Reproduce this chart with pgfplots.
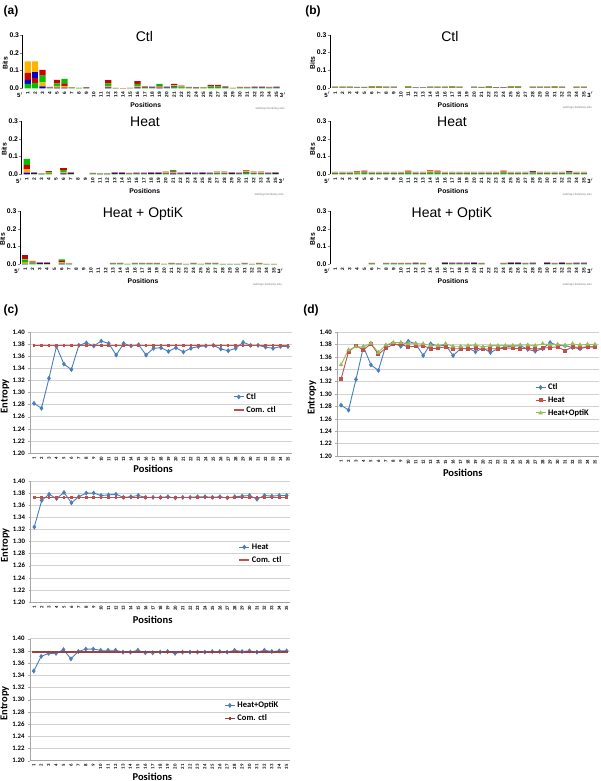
\documentclass[border=0pt]{standalone}
\usepackage{fontspec}
\setmainfont{Carlito}
\newfontfamily\arialf{Liberation Sans}
\usepackage{pgfplots}
\pgfplotsset{compat=1.18}
\usepackage{pgfplotstable}

\definecolor{xlblue}{HTML}{4A7EBB}
\definecolor{xlred}{HTML}{C0504D}
\definecolor{xlgreen}{HTML}{9BBB59}
\definecolor{lgA}{HTML}{00C000}
\definecolor{lgC}{HTML}{0000CC}
\definecolor{lgG}{HTML}{FFB300}
\definecolor{lgT}{HTML}{CC0000}
\newcommand{\fs}[1]{\fontsize{#1}{#1}\selectfont}

% entropy per position
\pgfplotstableread{
pos ctl heat optik comc comh como
1 1.282 1.324 1.347 1.378 1.373 1.378
2 1.274 1.368 1.371 1.378 1.373 1.378
3 1.3235 1.378 1.376 1.378 1.373 1.378
4 1.376 1.371 1.376 1.378 1.373 1.378
5 1.347 1.381 1.382 1.378 1.373 1.378
6 1.338 1.364 1.367 1.378 1.373 1.378
7 1.378 1.374 1.379 1.378 1.373 1.378
8 1.382 1.380 1.383 1.378 1.373 1.378
9 1.377 1.380 1.383 1.378 1.373 1.378
10 1.385 1.376 1.381 1.378 1.373 1.378
11 1.381 1.377 1.381 1.378 1.373 1.378
12 1.362 1.378 1.381 1.378 1.373 1.378
13 1.381 1.373 1.378 1.378 1.373 1.378
14 1.377 1.374 1.378 1.378 1.373 1.378
15 1.379 1.376 1.381 1.378 1.373 1.378
16 1.362 1.373 1.377 1.378 1.373 1.378
17 1.373 1.373 1.377 1.378 1.373 1.378
18 1.374 1.373 1.378 1.378 1.373 1.378
19 1.368 1.374 1.379 1.378 1.373 1.378
20 1.374 1.372 1.376 1.378 1.373 1.378
21 1.367 1.373 1.378 1.378 1.373 1.378
22 1.373 1.373 1.378 1.378 1.373 1.378
23 1.376 1.374 1.378 1.378 1.373 1.378
24 1.377 1.374 1.378 1.378 1.373 1.378
25 1.378 1.373 1.379 1.378 1.373 1.378
26 1.372 1.374 1.379 1.378 1.373 1.378
27 1.369 1.372 1.378 1.378 1.373 1.378
28 1.373 1.374 1.381 1.378 1.373 1.378
29 1.383 1.375 1.379 1.378 1.373 1.378
30 1.378 1.376 1.380 1.378 1.373 1.378
31 1.378 1.370 1.378 1.378 1.373 1.378
32 1.375 1.376 1.381 1.378 1.373 1.378
33 1.373 1.375 1.379 1.378 1.373 1.378
34 1.376 1.376 1.380 1.378 1.373 1.378
35 1.376 1.376 1.380 1.378 1.373 1.378
}\entropy

% logo heights (bits): lower stack A C G T, upper stack c g a t
\pgfplotstableread{
p A C G T c g a t
1 .025 .022 0 .040 0 .066 0 0
2 .030 0 0 .028 .032 .063 0 0
3 0 .011 .023 0 0 0 .038 .032
4 .002 .002 .002 .002 0 0 0 0
5 0 .004 .009 0 0 0 .015 .019
6 0 .004 .009 .015 0 0 .025 0
7 .002 .001 .002 .001 0 0 0 0
8 .001 0 .001 .001 0 0 0 0
9 .001 .001 .001 .002 0 0 0 0
10 0 0 0 0 0 0 0 0
11 0 0 0 0 0 0 0 0
12 0 .005 .008 0 0 0 .015 .018
13 .001 0 0 .001 0 0 0 0
14 0 0 0 .001 0 0 0 0
15 .001 0 .001 .001 0 0 0 0
16 0 .005 .008 0 0 0 .012 .015
17 .004 .002 .003 .003 0 0 0 0
18 .003 .002 .003 .002 0 0 0 0
19 0 .004 .005 .004 0 0 .012 0
20 .003 .002 .003 .002 0 0 0 0
21 .007 .004 .005 0 0 0 0 .009
22 .005 .003 .004 .003 0 0 0 0
23 .002 .002 .002 .002 0 0 0 0
24 .001 .001 .001 .002 0 0 0 0
25 .002 .001 .002 .001 0 0 0 0
26 .006 .003 .004 .007 0 0 0 0
27 .006 .003 .004 .007 0 0 0 0
28 .004 .002 .003 .003 0 0 0 0
29 .001 0 .001 .001 0 0 0 0
30 .002 .002 .002 .002 0 0 0 0
31 .002 .002 .002 .002 0 0 0 0
32 .003 .002 .003 .002 0 0 0 0
33 .003 .002 .003 .002 0 0 0 0
34 .002 .002 .002 .002 0 0 0 0
35 .003 .002 .003 .002 0 0 0 0
}\logoaCtl

\pgfplotstableread{
p A C G T c g a t
1 0 .009 .019 .025 0 0 .034 0
2 .003 .003 .003 .003 0 0 0 0
3 .001 .001 .002 .001 0 0 0 0
4 .005 .003 .005 .005 0 0 0 0
5 0 0 0 0 0 0 0 0
6 0 .005 .008 0 0 0 .010 .012
7 .003 .003 .003 .003 0 0 0 0
8 0 0 0 0 0 0 0 0
9 0 0 0 0 0 0 0 0
10 .002 .002 .002 .002 0 0 0 0
11 .001 .001 .002 .001 0 0 0 0
12 .001 .001 .002 .001 0 0 0 0
13 .003 .003 .003 .003 0 0 0 0
14 .003 .003 .003 .003 0 0 0 0
15 .002 .002 .002 .002 0 0 0 0
16 .003 .002 .003 .002 0 0 0 0
17 .003 .002 .003 .002 0 0 0 0
18 .003 .003 .003 .003 0 0 0 0
19 .003 .003 .003 .003 0 0 0 0
20 .004 .003 .004 .004 0 0 0 0
21 0 .005 .006 .005 0 0 .008 0
22 .003 .002 .003 .002 0 0 0 0
23 .003 .003 .003 .003 0 0 0 0
24 .003 .002 .003 .002 0 0 0 0
25 .003 .003 .003 .003 0 0 0 0
26 .003 .002 .003 .002 0 0 0 0
27 .004 .003 .004 .004 0 0 0 0
28 .004 .003 .004 .004 0 0 0 0
29 .003 .003 .003 .003 0 0 0 0
30 .003 .002 .003 .002 0 0 0 0
31 .006 .005 .005 .006 0 0 0 0
32 .004 .003 .004 .004 0 0 0 0
33 .004 .003 .004 .004 0 0 0 0
34 .003 .002 .003 .002 0 0 0 0
35 .003 .003 .003 .003 0 0 0 0
}\logoaHeat

\pgfplotstableread{
p A C G T c g a t
1 0 .003 .006 0 0 0 .019 .025
2 .005 .005 .005 .005 0 0 0 0
3 .003 .003 .003 .003 0 0 0 0
4 .003 .003 .003 .003 0 0 0 0
5 0 0 0 0 0 0 0 0
6 0 .004 .007 .008 0 0 .009 0
7 .001 .001 .002 .001 0 0 0 0
8 0 0 0 0 0 0 0 0
9 0 0 0 0 0 0 0 0
10 0 0 0 0 0 0 0 0
11 0 0 0 0 0 0 0 0
12 0 0 0 0 0 0 0 0
13 .002 .002 .002 .002 0 0 0 0
14 .002 .002 .002 .002 0 0 0 0
15 .001 0 .001 .001 0 0 0 0
16 .002 .002 .002 .002 0 0 0 0
17 .002 .002 .002 .002 0 0 0 0
18 .002 .002 .002 .002 0 0 0 0
19 .002 .002 .002 .002 0 0 0 0
20 .001 0 .001 .001 0 0 0 0
21 .002 .002 .002 .002 0 0 0 0
22 .001 .001 .002 .001 0 0 0 0
23 .001 0 0 .001 0 0 0 0
24 .002 .002 .002 .002 0 0 0 0
25 .001 0 .001 .001 0 0 0 0
26 .002 .002 .002 .002 0 0 0 0
27 .002 .002 .002 .002 0 0 0 0
28 .001 0 0 .001 0 0 0 0
29 .001 0 0 .001 0 0 0 0
30 .001 0 0 .001 0 0 0 0
31 .002 .002 .002 .002 0 0 0 0
32 .001 0 0 .001 0 0 0 0
33 .002 .002 .002 .002 0 0 0 0
34 .001 0 0 .001 0 0 0 0
35 .001 0 0 .001 0 0 0 0
}\logoaOpt

\pgfplotstableread{
p A C G T
1 .002 .002 .002 .002
2 .002 .002 .002 .002
3 .002 .002 .002 .002
4 .002 .001 .002 .002
5 .002 .001 .002 .002
6 .003 .002 .003 .002
7 .003 .002 .003 .002
8 .002 .002 .002 .002
9 .002 .002 .002 .002
10 0 0 0 0
11 .003 .002 .003 .002
12 .001 .001 .001 .001
13 .001 .001 .001 .001
14 .002 .002 .002 .002
15 .002 .002 .002 .002
16 .002 .002 .002 .002
17 .003 .002 .003 .002
18 .002 .002 .002 .002
19 0 0 0 0
20 .002 .002 .002 .002
21 .002 .001 .002 .001
22 .003 .002 .003 .002
23 .001 .001 .002 .001
24 .001 .001 .002 .001
25 .003 .002 .003 .002
26 .003 .002 .003 .002
27 0 0 0 0
28 .002 .002 .002 .002
29 .002 .002 .002 .002
30 .002 .002 .002 .002
31 .003 .002 .003 .002
32 .002 .002 .002 .002
33 0 0 0 0
34 .002 .002 .002 .002
35 .002 .002 .002 .002
}\logobCtl

\pgfplotstableread{
p A C G T
1 .004 .003 .004 .003
2 .004 .003 .004 .003
3 .004 .003 .004 .003
4 .005 .003 .004 .004
5 .006 .004 .005 .006
6 .004 .003 .004 .003
7 .004 .003 .004 .003
8 .004 .003 .004 .003
9 .004 .003 .004 .003
10 .004 .003 .004 .003
11 .006 .004 .005 .006
12 .004 .003 .004 .003
13 .004 .003 .004 .003
14 .006 .004 .006 .006
15 .006 .004 .005 .006
16 .004 .003 .004 .003
17 .004 .003 .004 .003
18 .004 .003 .004 .003
19 .004 .003 .004 .003
20 .004 .003 .004 .003
21 .004 .003 .004 .003
22 .004 .003 .004 .003
23 .004 .003 .004 .003
24 .006 .004 .005 .006
25 .004 .003 .004 .003
26 .004 .003 .004 .003
27 .004 .003 .004 .003
28 .005 .004 .005 .004
29 .004 .003 .004 .003
30 .004 .003 .004 .003
31 .004 .003 .004 .003
32 .004 .003 .004 .003
33 .005 .004 .005 .004
34 .004 .003 .004 .003
35 .004 .003 .004 .003
}\logobHeat

\pgfplotstableread{
p A C G T
1 0 0 0 0
2 0 0 0 0
3 0 0 0 0
4 0 0 0 0
5 0 0 0 0
6 .002 .002 .002 .002
7 0 0 0 0
8 .002 .002 .002 .002
9 .002 .002 .002 .002
10 .002 .002 .002 .002
11 .002 .002 .002 .002
12 .003 .002 .003 .002
13 .002 .002 .002 .002
14 0 0 0 0
15 0 0 0 0
16 .003 .003 .003 .003
17 .003 .002 .003 .002
18 .003 .002 .003 .002
19 .003 .002 .003 .002
20 .003 .003 .003 .003
21 .002 .002 .002 .002
22 0 0 0 0
23 0 0 0 0
24 .002 .002 .002 .002
25 .003 .003 .003 .003
26 .003 .003 .003 .003
27 .002 .002 .002 .002
28 .003 .002 .003 .002
29 0 0 0 0
30 .003 .003 .003 .003
31 .002 .002 .002 .002
32 .003 .003 .003 .003
33 .002 .002 .002 .002
34 .003 .002 .003 .002
35 .003 .002 .003 .002
}\logobOpt

\newcommand{\logolow}[1]{%
  \addplot[fill=lgA, draw=none] table[x=p, y=A] {#1};
  \addplot[fill=lgC, draw=none] table[x=p, y=C] {#1};
  \addplot[fill=lgG, draw=none] table[x=p, y=G] {#1};
  \addplot[fill=lgT, draw=none] table[x=p, y=T] {#1};}
\newcommand{\logohigh}[1]{%
  \addplot[fill=lgC, draw=none] table[x=p, y=c] {#1};
  \addplot[fill=lgG, draw=none] table[x=p, y=g] {#1};
  \addplot[fill=lgA, draw=none] table[x=p, y=a] {#1};
  \addplot[fill=lgT, draw=none] table[x=p, y=t] {#1};}
\newcommand{\logoends}{%
  \node[font=\arialf\bfseries\fs{6}] at (axis description cs:-0.01,-0.125) {5$'$};
  \node[font=\arialf\bfseries\fs{6}] at (axis description cs:1.005,-0.125) {3$'$};
  \node[font=\arialf\fs{3}, text=gray] at (axis description cs:0.955,-0.38) {weblogo.berkeley.edu};}

\pgfplotsset{
  logo/.style={
    scale only axis, width=259pt, height=53pt,
    xmin=0.3, xmax=35.7, ymin=0, ymax=0.3,
    ybar stacked, bar width=6.2pt,
    axis x line*=bottom, axis y line*=left,
    x axis line style={draw=none},
    y axis line style={-, line width=0.8pt},
    xtick={1,...,35}, xtick style={draw=none},
    xticklabel style={rotate=90, anchor=east, font=\arialf\bfseries\fs{4.8}, inner sep=1pt},
    ytick={0,0.1,0.2,0.3},
    ytick style={line width=0.8pt}, tick align=outside, major tick length=2.5pt,
    yticklabel style={font=\arialf\bfseries\fs{6.8}, inner sep=1pt,
      /pgf/number format/.cd, fixed, fixed zerofill, precision=1},
    /pgf/number format/assume math mode=true,
    ylabel={Bits},
    ylabel style={at={(axis description cs:-0.068,0.47)}, anchor=center, font=\arialf\bfseries\fs{6.8}},
    xlabel={Positions},
    xlabel style={at={(axis description cs:0.475,-0.32)}, anchor=center, font=\arialf\bfseries\fs{6.8}},
    title style={at={(axis description cs:0.47,0.86)}, anchor=center, font=\arialf\fs{14}},
    clip=false,
  },
  ent/.style={
    scale only axis,
    xmin=0.5, xmax=35.5, ymin=1.2, ymax=1.4,
    ytick={1.20,1.22,1.24,1.26,1.28,1.30,1.32,1.34,1.36,1.38,1.40},
    ymajorgrids, grid style={gray!35, line width=0.5pt},
    axis x line*=bottom, axis y line*=left,
    axis line style={-, gray!70, line width=0.6pt},
    xtick={1,...,35}, xtick style={draw=none},
    minor xtick={0.5,1.5,...,35.5}, minor tick length=2pt,
    minor x tick style={gray!70},
    ytick style={gray!70}, major tick length=2pt, tick align=outside,
    xticklabel style={rotate=90, anchor=east, font=\bfseries\fs{4.8}, inner sep=1.5pt},
    yticklabel style={font=\bfseries\fs{6.8},
      /pgf/number format/.cd, fixed, fixed zerofill, precision=2},
    /pgf/number format/assume math mode=true,
    ylabel={Entropy},
    ylabel style={at={(axis description cs:-0.097,0.47)}, anchor=center, font=\bfseries\fs{10.5}},
    xlabel={Positions},
    xlabel style={at={(axis description cs:0.47,-0.13)}, anchor=center, font=\bfseries\fs{10.5}},
    legend style={draw=none, fill=none, font=\bfseries\fs{8.5}, anchor=west,
      row sep=1.5pt, inner sep=0pt},
    legend cell align=left,
    legend image code/.code={\draw[mark repeat=2, mark phase=2]
      plot coordinates {(0pt,0pt) (5pt,0pt) (10pt,0pt)};},
    clip=false,
  },
  ctlline/.style={xlblue, line width=0.9pt, mark=diamond*, mark size=1.8pt},
  comline/.style={xlred, line width=1.3pt, mark=square*, mark size=0.6pt,
    mark options={fill=red!50!black, draw=none}},
}

\begin{document}
\begin{tikzpicture}
\useasboundingbox (0pt,0pt) rectangle (600pt,781pt);

% panel letters
\node[font=\arialf\bfseries\fs{12}] at (11pt,770pt) {(a)};
\node[font=\arialf\bfseries\fs{12}] at (313pt,770pt) {(b)};
\node[font=\arialf\bfseries\fs{12}] at (11pt,471pt) {(c)};
\node[font=\arialf\bfseries\fs{12}] at (311pt,471pt) {(d)};

% (a) logos
\begin{axis}[logo, at={(22.7pt,692.7pt)}, anchor=south west, title={Ctl}]
\logolow{\logoaCtl}
\logohigh{\logoaCtl}
\logoends
\end{axis}
\begin{axis}[logo, at={(21.7pt,606.7pt)}, anchor=south west, title={Heat},
  title style={at={(axis description cs:0.476,0.88)}}]
\logolow{\logoaHeat}
\logohigh{\logoaHeat}
\logoends
\end{axis}
\begin{axis}[logo, at={(20pt,516.7pt)}, anchor=south west, title={Heat + OptiK},
  title style={at={(axis description cs:0.475,0.84)}}]
\logolow{\logoaOpt}
\logohigh{\logoaOpt}
\logoends
\end{axis}

% (b) logos
\begin{axis}[logo, at={(330pt,693pt)}, anchor=south west, title={Ctl},
  title style={at={(axis description cs:0.463,0.85)}}]
\logolow{\logobCtl}
\logoends
\end{axis}
\begin{axis}[logo, at={(330pt,606.7pt)}, anchor=south west, title={Heat},
  title style={at={(axis description cs:0.471,0.88)}}]
\logolow{\logobHeat}
\logoends
\end{axis}
\begin{axis}[logo, at={(330pt,516.7pt)}, anchor=south west, title={Heat + OptiK},
  title style={at={(axis description cs:0.471,0.84)}}]
\logolow{\logobOpt}
\logoends
\end{axis}

% (c) top: Ctl
\begin{axis}[ent, at={(30.3pt,328pt)}, anchor=south west, width=261.4pt, height=121pt,
  legend style={at={(axis description cs:0.775,0.41)}}]
\addplot[ctlline] table[x=pos, y=ctl] {\entropy};
\addlegendentry{Ctl}
\addplot[comline] table[x=pos, y=comc] {\entropy};
\addlegendentry{Com. ctl}
\end{axis}

% (c) middle: Heat
\begin{axis}[ent, at={(30.6pt,179pt)}, anchor=south west, width=259.8pt, height=121pt,
  xlabel style={at={(axis description cs:0.47,-0.145)}},
  legend style={at={(axis description cs:0.80,0.40)}}]
\addplot[ctlline] table[x=pos, y=heat] {\entropy};
\addlegendentry{Heat}
\addplot[comline] table[x=pos, y=comh] {\entropy};
\addlegendentry{Com. ctl}
\end{axis}

% (c) bottom: Heat+OptiK
\begin{axis}[ent, at={(30pt,20.3pt)}, anchor=south west, width=260.4pt, height=122pt,
  legend style={at={(axis description cs:0.745,0.40)}}]
\addplot[ctlline] table[x=pos, y=optik] {\entropy};
\addlegendentry{Heat+OptiK}
\addplot[comline, xlred!80!black] table[x=pos, y=como] {\entropy};
\addlegendentry{Com. ctl}
\end{axis}

% (d) all three
\begin{axis}[ent, at={(337.3pt,325pt)}, anchor=south west, width=261.4pt, height=124pt,
  xlabel style={at={(axis description cs:0.48,-0.135)}},
  legend style={at={(axis description cs:0.756,0.45)}}]
\addplot[ctlline] table[x=pos, y=ctl] {\entropy};
\addlegendentry{Ctl}
\addplot[xlred, line width=0.9pt, mark=square*, mark size=1.5pt] table[x=pos, y=heat] {\entropy};
\addlegendentry{Heat}
\addplot[xlgreen, line width=0.9pt, mark=triangle*, mark size=1.8pt] table[x=pos, y=optik] {\entropy};
\addlegendentry{Heat+OptiK}
\end{axis}
\end{tikzpicture}
\end{document}
